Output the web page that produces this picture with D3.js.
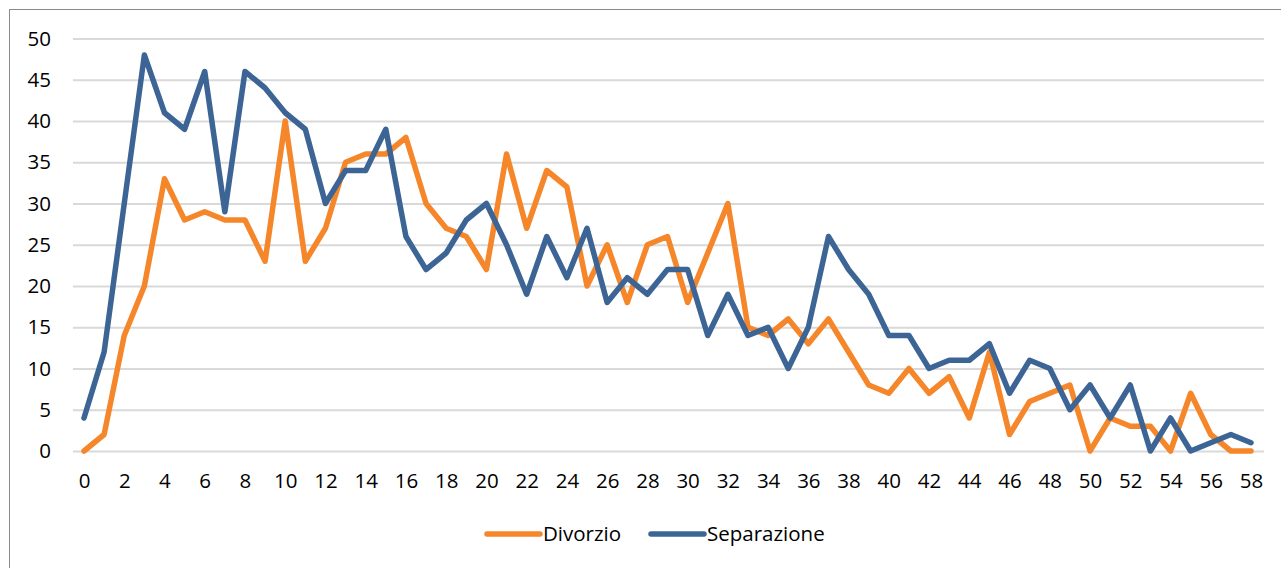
<!DOCTYPE html>
<html>
<head>
<meta charset="utf-8">
<script src="https://cdn.jsdelivr.net/npm/d3@7"></script>
<style>
  body { margin: 0; background: #fff; }
  text { font-family: "Open Sans", sans-serif; }
</style>
</head>
<body>
<div id="chart"></div>
<script>
'use strict';

var years = [0,1,2,3,4,5,6,7,8,9,10,11,12,13,14,15,16,17,18,19,20,21,22,23,24,25,26,27,28,29,
  30,31,32,33,34,35,36,37,38,39,40,41,42,43,44,45,46,47,48,49,50,51,52,53,54,55,56,57,58];
var divorzio = [0,2,14,20,33,28,29,28,28,23,40,23,27,35,36,36,38,30,27,26,22,36,27,34,32,20,25,18,25,26,
  18,24,30,15,14,16,13,16,12,8,7,10,7,9,4,12,2,6,7,8,0,4,3,3,0,7,2,0,0];
var separazione = [4,12,30,48,41,39,46,29,46,44,41,39,30,34,34,39,26,22,24,28,30,25,19,26,21,27,18,21,19,22,
  22,14,19,14,15,10,15,26,22,19,14,14,10,11,11,13,7,11,10,5,8,4,8,0,4,0,1,2,1];
var xTicks = [0,2,4,6,8,10,12,14,16,18,20,22,24,26,28,30,32,34,36,38,40,42,44,46,48,50,52,54,56,58];
var yTicks = [0,5,10,15,20,25,30,35,40,45,50];

var series = [
  { name: 'Divorzio', values: divorzio, color: '#F5862A' },
  { name: 'Separazione', values: separazione, color: '#3C6595' }
];

var width = 1281, height = 568;
var svg = d3.select('#chart').append('svg')
  .attr('width', width)
  .attr('height', height);

// outer frame of the chart area
svg.append('rect')
  .attr('x', 9.5).attr('y', 9.5)
  .attr('width', 1400).attr('height', 700)
  .attr('fill', 'none')
  .attr('stroke', '#8a8a8a')
  .attr('stroke-width', 1);

var x = d3.scaleLinear().domain([0, 58]).range([84, 1251]);
var y = d3.scaleLinear().domain([0, 50]).range([451, 38.5]);

// gridlines + y labels
var yAxis = svg.append('g')
  .attr('transform', 'translate(73,0)')
  .call(d3.axisLeft(y).tickValues(yTicks).tickSize(-(1264 - 73)).tickPadding(22));
yAxis.select('.domain').remove();
yAxis.selectAll('.tick line').attr('stroke', '#d9d9d9').attr('stroke-width', 2);
yAxis.selectAll('.tick text').attr('font-size', 20.5).attr('fill', '#000');

var xAxis = svg.append('g')
  .attr('transform', 'translate(0,451)')
  .call(d3.axisBottom(x).tickValues(xTicks).tickSize(0).tickPadding(22));
xAxis.select('.domain').remove();
xAxis.selectAll('.tick text').attr('font-size', 20.5).attr('fill', '#000');

var line = d3.line()
  .x(function(d, i) { return x(years[i]); })
  .y(function(d) { return y(d); });

series.forEach(function(s) {
  svg.append('path')
    .datum(s.values)
    .attr('d', line)
    .attr('fill', 'none')
    .attr('stroke', s.color)
    .attr('stroke-width', 5.5)
    .attr('stroke-linejoin', 'round')
    .attr('stroke-linecap', 'round');
});

// legend
var legendPos = [487, 651];
var legend = svg.append('g').attr('transform', 'translate(0,534)');
series.forEach(function(s, i) {
  var g = legend.append('g').attr('transform', 'translate(' + legendPos[i] + ',0)');
  g.append('line')
    .attr('x1', 0).attr('x2', 53)
    .attr('stroke', s.color)
    .attr('stroke-width', 5.5)
    .attr('stroke-linecap', 'round');
  g.append('text')
    .attr('x', 56)
    .attr('dy', '0.35em')
    .attr('font-size', 20.5)
    .attr('fill', '#000')
    .text(s.name);
});
</script>
</body>
</html>
